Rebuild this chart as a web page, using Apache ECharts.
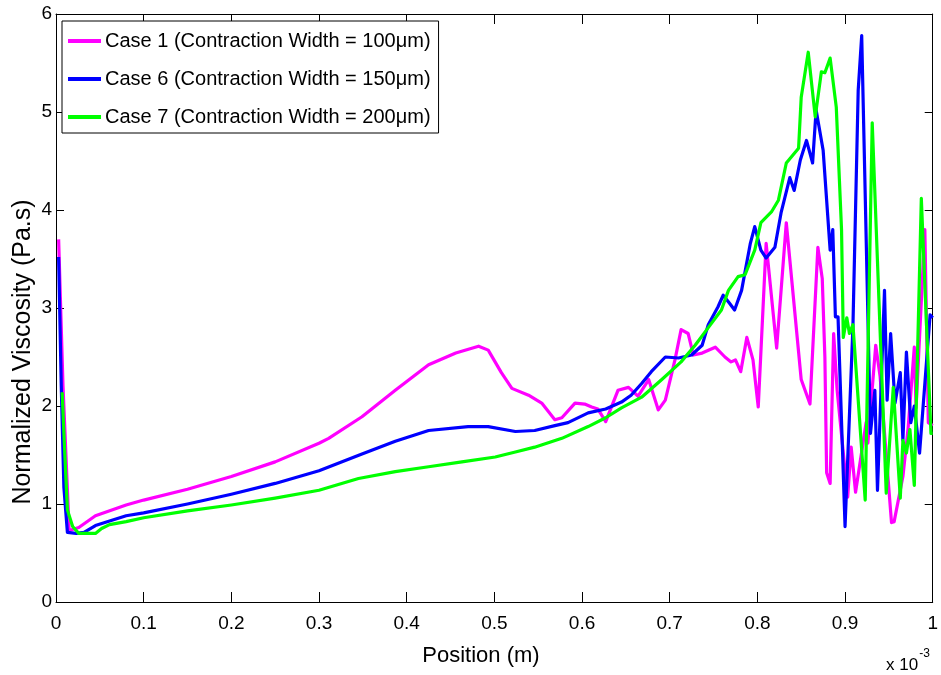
<!DOCTYPE html>
<html>
<head>
<meta charset="utf-8">
<script src="https://cdn.jsdelivr.net/npm/echarts@6/dist/echarts.min.js"></script>
<style>
  html, body { margin: 0; padding: 0; background: #fff; }
  #chart { width: 941px; height: 675px; }
</style>
</head>
<body>
<div id="chart"></div>
<script>
// Position in units of 1e-3 m
const seriesNames = [
  'Case 1 (Contraction Width = 100\u03bcm)',
  'Case 6 (Contraction Width = 150\u03bcm)',
  'Case 7 (Contraction Width = 200\u03bcm)'
];
const seriesColors = ['#ff00ff', '#0000ff', '#00ff00'];

const xTicks = [0, 0.1, 0.2, 0.3, 0.4, 0.5, 0.6, 0.7, 0.8, 0.9, 1];
const yTicks = [0, 1, 2, 3, 4, 5, 6];

const xTitle = 'Position (m)';
const yTitle = 'Normalized Viscosity (Pa.s)';

const case1X = [0.003, 0.008, 0.015, 0.026, 0.045, 0.080, 0.10, 0.15, 0.20, 0.25, 0.30, 0.311, 0.349, 0.387, 0.425, 0.456, 0.482, 0.493, 0.508, 0.520, 0.539, 0.554, 0.569, 0.577, 0.592, 0.603, 0.611, 0.618, 0.627, 0.641, 0.653, 0.664, 0.676, 0.687, 0.695, 0.706, 0.713, 0.721, 0.727, 0.737, 0.752, 0.763, 0.770, 0.775, 0.781, 0.788, 0.795, 0.801, 0.803, 0.810, 0.822, 0.833, 0.850, 0.860, 0.869, 0.874, 0.877, 0.879, 0.883, 0.887, 0.891, 0.903, 0.907, 0.912, 0.924, 0.926, 0.935, 0.940, 0.953, 0.956, 0.966, 0.972, 0.979, 0.981, 0.991, 0.995, 1.0];
const case1Y = [3.70, 2.2, 0.73, 0.76, 0.88, 0.99, 1.04, 1.15, 1.28, 1.43, 1.62, 1.67, 1.89, 2.16, 2.42, 2.54, 2.61, 2.57, 2.34, 2.18, 2.11, 2.03, 1.86, 1.88, 2.03, 2.02, 1.99, 1.97, 1.84, 2.16, 2.19, 2.10, 2.27, 1.96, 2.06, 2.47, 2.78, 2.74, 2.52, 2.54, 2.60, 2.50, 2.45, 2.47, 2.35, 2.70, 2.47, 1.99, 1.99, 3.66, 2.59, 3.87, 2.27, 2.02, 3.62, 3.30, 2.50, 1.32, 1.21, 2.74, 2.16, 1.07, 1.58, 1.12, 1.83, 1.62, 2.62, 2.30, 0.81, 0.82, 1.28, 1.78, 2.60, 1.98, 3.80, 1.83, 1.80];

const case6X = [0.003, 0.006, 0.009, 0.013, 0.023, 0.032, 0.045, 0.080, 0.10, 0.15, 0.20, 0.25, 0.30, 0.349, 0.387, 0.425, 0.470, 0.493, 0.524, 0.546, 0.569, 0.584, 0.607, 0.627, 0.645, 0.656, 0.668, 0.679, 0.695, 0.710, 0.725, 0.737, 0.744, 0.755, 0.761, 0.768, 0.774, 0.782, 0.792, 0.797, 0.804, 0.810, 0.820, 0.827, 0.837, 0.842, 0.849, 0.856, 0.863, 0.867, 0.875, 0.883, 0.886, 0.889, 0.892, 0.900, 0.909, 0.915, 0.919, 0.929, 0.934, 0.937, 0.945, 0.948, 0.952, 0.957, 0.963, 0.966, 0.970, 0.975, 0.979, 0.985, 0.997, 1.0];
const case6Y = [3.52, 2.2, 1.17, 0.71, 0.70, 0.71, 0.78, 0.88, 0.91, 1.00, 1.10, 1.21, 1.34, 1.51, 1.64, 1.75, 1.79, 1.79, 1.74, 1.75, 1.80, 1.83, 1.93, 1.97, 2.04, 2.11, 2.23, 2.35, 2.50, 2.49, 2.52, 2.62, 2.83, 3.01, 3.13, 3.05, 2.98, 3.18, 3.66, 3.83, 3.59, 3.51, 3.62, 3.97, 4.33, 4.20, 4.51, 4.71, 4.48, 5.02, 4.61, 3.59, 3.80, 2.91, 2.91, 0.77, 2.81, 5.22, 5.78, 1.72, 2.16, 1.14, 3.18, 2.06, 2.74, 2.03, 2.34, 1.65, 2.55, 1.83, 2.00, 1.52, 2.93, 2.90];

const case7X = [0.007, 0.010, 0.013, 0.019, 0.026, 0.045, 0.052, 0.061, 0.080, 0.10, 0.15, 0.20, 0.25, 0.30, 0.345, 0.387, 0.425, 0.463, 0.501, 0.524, 0.546, 0.577, 0.607, 0.627, 0.645, 0.668, 0.691, 0.713, 0.729, 0.744, 0.759, 0.767, 0.778, 0.786, 0.797, 0.804, 0.816, 0.824, 0.833, 0.847, 0.850, 0.858, 0.866, 0.873, 0.877, 0.883, 0.890, 0.896, 0.898, 0.902, 0.905, 0.909, 0.923, 0.931, 0.947, 0.955, 0.963, 0.966, 0.970, 0.974, 0.979, 0.987, 0.998, 1.0];
const case7Y = [2.14, 1.52, 0.94, 0.77, 0.70, 0.70, 0.75, 0.79, 0.82, 0.86, 0.93, 0.99, 1.06, 1.14, 1.26, 1.33, 1.38, 1.43, 1.48, 1.53, 1.58, 1.67, 1.79, 1.88, 1.98, 2.09, 2.27, 2.45, 2.62, 2.80, 2.98, 3.18, 3.32, 3.34, 3.59, 3.87, 3.98, 4.10, 4.48, 4.63, 5.15, 5.61, 4.95, 5.41, 5.40, 5.55, 5.05, 3.80, 2.70, 2.90, 2.74, 2.83, 1.04, 4.89, 1.11, 2.19, 1.06, 1.65, 1.52, 1.76, 1.19, 4.12, 1.72, 1.72];

const xs = [case1X, case6X, case7X];
const ys = [case1Y, case6Y, case7Y];

const FONT = "'Liberation Sans', Arial, Helvetica, sans-serif";

const chart = echarts.init(document.getElementById('chart'), null, { renderer: 'canvas' });

const series = seriesNames.map((name, i) => ({
  name: name,
  type: 'line',
  xAxisIndex: 0,
  yAxisIndex: 0,
  showSymbol: false,
  symbol: 'none',
  smooth: false,
  animation: false,
  lineStyle: { color: seriesColors[i], width: 3.2, join: 'round' },
  itemStyle: { color: seriesColors[i] },
  data: xs[i].map((x, k) => [x, ys[i][k]])
}));

const xMin = xTicks[0], xMax = xTicks[xTicks.length - 1];
const yMin = yTicks[0], yMax = yTicks[yTicks.length - 1];

const option = {
  backgroundColor: '#ffffff',
  animation: false,
  textStyle: { fontFamily: FONT },
  grid: { left: 56, top: 14, right: 6, bottom: 73, containLabel: false },
  legend: {
    data: seriesNames,
    orient: 'vertical',
    left: 62,
    top: 21,
    icon: 'rect',
    itemWidth: 33,
    itemHeight: 4,
    itemGap: 18,
    padding: [10, 8, 6, 6],
    backgroundColor: '#ffffff',
    borderColor: '#000000',
    borderWidth: 1,
    borderRadius: 0,
    selectedMode: false,
    textStyle: { fontFamily: FONT, fontSize: 20, color: '#000', lineHeight: 20, padding: [0, 0, 0, -1] }
  },
  xAxis: [
    {
      type: 'value', min: xMin, max: xMax, interval: 0.1, position: 'bottom',
      axisLine: { show: true, onZero: false, lineStyle: { color: '#000', width: 1 } },
      axisTick: { show: true, inside: true, length: 10, lineStyle: { color: '#000' } },
      axisLabel: { show: true, fontFamily: FONT, fontSize: 19, color: '#000', margin: 12,
        formatter: v => String(+v.toFixed(1)) },
      splitLine: { show: false }
    },
    {
      type: 'value', min: xMin, max: xMax, interval: 0.1, position: 'top',
      axisLine: { show: true, onZero: false, lineStyle: { color: '#000', width: 1 } },
      axisTick: { show: true, inside: true, length: 10, lineStyle: { color: '#000' } },
      axisLabel: { show: false },
      splitLine: { show: false }
    }
  ],
  yAxis: [
    {
      type: 'value', min: yMin, max: yMax, interval: 1, position: 'left',
      axisLine: { show: true, onZero: false, lineStyle: { color: '#000', width: 1 } },
      axisTick: { show: true, inside: true, length: 8, lineStyle: { color: '#000' } },
      axisLabel: { show: true, fontFamily: FONT, fontSize: 19, color: '#000', margin: 4 },
      splitLine: { show: false }
    },
    {
      type: 'value', min: yMin, max: yMax, interval: 1, position: 'right',
      axisLine: { show: true, onZero: false, lineStyle: { color: '#000', width: 1 } },
      axisTick: { show: true, inside: true, length: 8, lineStyle: { color: '#000' } },
      axisLabel: { show: false },
      splitLine: { show: false }
    }
  ],
  graphic: [
    {
      type: 'text', x: 481, y: 656, silent: true,
      style: { text: xTitle, fontFamily: FONT, fontSize: 22, fill: '#000',
        textAlign: 'center', textVerticalAlign: 'middle' }
    },
    {
      type: 'text', x: 23, y: 352, rotation: Math.PI / 2, silent: true,
      style: { text: yTitle, fontFamily: FONT, fontSize: 25, fill: '#000',
        textAlign: 'center', textVerticalAlign: 'middle' }
    },
    {
      type: 'text', left: 886, top: 648, silent: true,
      style: {
        text: '{b|x 10}{s|-3}',
        rich: {
          b: { fontFamily: FONT, fontSize: 17, fill: '#000', verticalAlign: 'bottom' },
          s: { fontFamily: FONT, fontSize: 12, fill: '#000', verticalAlign: 'top', padding: [0, 0, 14, 1] }
        }
      }
    }
  ],
  series: series
};

chart.setOption(option);
</script>
</body>
</html>
